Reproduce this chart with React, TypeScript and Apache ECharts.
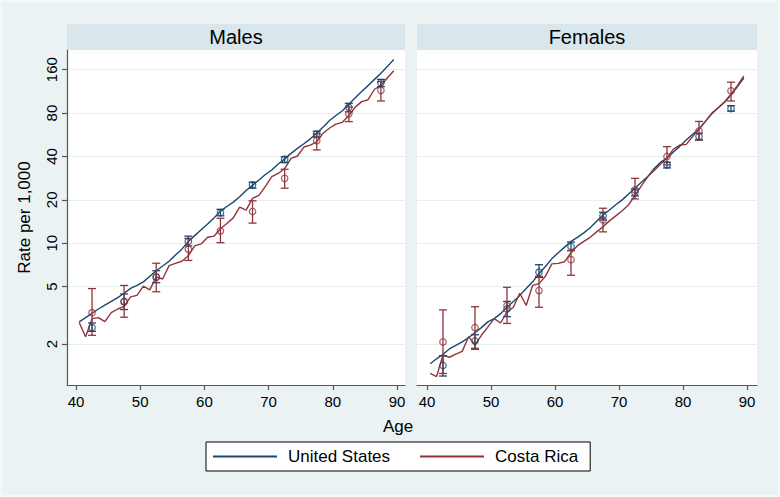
import React, { useEffect, useRef } from 'react';
import * as echarts from 'echarts';

// ---- data ----
const panels = ['Males', 'Females'];
const countries = ['United States', 'Costa Rica'];
const countryColors = ['#1A476F', '#90353B'];

const ages = [
  40.5, 41.5, 42.5, 43.5, 44.5, 45.5, 46.5, 47.5, 48.5, 49.5,
  50.5, 51.5, 52.5, 53.5, 54.5, 55.5, 56.5, 57.5, 58.5, 59.5,
  60.5, 61.5, 62.5, 63.5, 64.5, 65.5, 66.5, 67.5, 68.5, 69.5,
  70.5, 71.5, 72.5, 73.5, 74.5, 75.5, 76.5, 77.5, 78.5, 79.5,
  80.5, 81.5, 82.5, 83.5, 84.5, 85.5, 86.5, 87.5, 88.5, 89.5,
];

const usMales = [
  2.85, 3.05, 3.27, 3.5, 3.72, 3.95, 4.2, 4.5, 4.87, 5.1,
  5.4, 5.9, 6.45, 6.95, 7.5, 8.3, 9.1, 10.3, 11.3, 12.4,
  13.6, 15.0, 16.7, 18.0, 19.3, 21.0, 23.2, 25.2, 27.5, 30.0,
  32.2, 35.5, 38.5, 42, 45.5, 49, 53, 58, 64, 71,
  77, 83, 92, 102, 113, 124, 137, 151, 168, 188,
];
const crMales = [
  2.82, 2.25, 3.0, 3.05, 2.86, 3.3, 3.5, 3.65, 4.25, 4.35,
  5.05, 4.75, 5.85, 5.65, 7.0, 7.25, 7.5, 8.2, 9.6, 9.9,
  11.0, 11.2, 12.6, 13.7, 15.0, 17.8, 17.0, 20.5, 21.5, 24.8,
  29, 30.5, 33, 38.8, 40.3, 46.5, 48, 50.5, 58, 63,
  67, 69, 77, 88, 96, 99, 117, 124, 140, 157,
];
const usFemales = [
  1.46, 1.58, 1.7, 1.85, 1.96, 2.07, 2.22, 2.4, 2.6, 2.85,
  3.0, 3.25, 3.6, 3.95, 4.35, 4.85, 5.4, 6.15, 6.9, 7.8,
  8.6, 9.4, 10.3, 11.0, 11.8, 12.8, 14.2, 15.7, 17.0, 18.5,
  20.0, 22.0, 24.2, 26.5, 29, 33, 36.5, 39, 43, 47,
  52, 57, 62, 70, 79, 87, 95, 107, 122, 140,
];
const crFemales = [
  1.25, 1.19, 1.68, 1.62, 1.7, 1.78, 2.25, 1.97, 2.3, 2.62,
  3.0, 2.8, 3.35, 3.6, 4.5, 3.7, 5.1, 5.25, 5.9, 7.2,
  7.25, 7.45, 8.6, 9.6, 10.3, 11.0, 12.0, 13.0, 14.3, 15.5,
  16.8, 18.5, 21.5, 25, 29, 32, 35.5, 39, 45, 48,
  48.5, 55, 62, 70, 80, 87, 96, 108, 124, 145,
];

const pointAges = [42.5, 47.5, 52.5, 57.5, 62.5, 67.5, 72.5, 77.5, 82.5, 87.5];

const usMalesPt = [2.6, 3.95, 5.85, 10.3, 16.3, 25.4, 38.3, 57.2, 87.8, 130];
const usMalesLo = [2.45, 3.47, 5.33, 9.6, 15.5, 24.1, 36.2, 54.4, 81.6, 122];
const usMalesHi = [2.8, 4.45, 6.45, 11.2, 17.2, 26.5, 39.8, 59.8, 93.5, 137];

const crMalesPt = [3.3, 3.92, 5.8, 9.1, 12.2, 16.6, 28.2, 51.5, 79, 115];
const crMalesLo = [2.3, 3.07, 4.61, 7.6, 10.1, 13.8, 24.1, 44.4, 69.8, 97];
const crMalesHi = [4.85, 5.1, 7.27, 10.8, 14.9, 19.7, 32.6, 57.5, 88, 132];

const usFemalesPt = [1.42, 2.1, 3.5, 6.3, 9.5, 15.5, 22.5, 35, 55, 86];
const usFemalesLo = [1.2, 1.84, 3.1, 5.8, 8.9, 14.5, 21.3, 33.3, 52, 82.5];
const usFemalesHi = [1.66, 2.32, 3.95, 7.1, 10.2, 16.4, 23.8, 36.5, 58, 90];

const crFemalesPt = [2.07, 2.6, 3.7, 4.7, 7.7, 14.5, 23.5, 40, 60, 114];
const crFemalesLo = [1.25, 1.87, 2.78, 3.6, 6.0, 12.0, 20.3, 35, 52, 97];
const crFemalesHi = [3.45, 3.63, 4.95, 5.9, 8.9, 17.5, 28.2, 46.8, 70, 131];

const yTickValues = [2, 5, 10, 20, 40, 80, 160];
const xTickValues = [40, 50, 60, 70, 80, 90];
const yMinRate = 1.04;
const yMaxRate = 219;

const lineData = [
  [usMales, crMales],
  [usFemales, crFemales],
];
const pointData = [
  [
    [usMalesPt, usMalesLo, usMalesHi],
    [crMalesPt, crMalesLo, crMalesHi],
  ],
  [
    [usFemalesPt, usFemalesLo, usFemalesHi],
    [crFemalesPt, crFemalesLo, crFemalesHi],
  ],
];

const FONT = '"Liberation Sans", Arial, Helvetica, sans-serif';
const L = (v: number) => Math.log10(v);

const gridBoxes = [
  { left: 67, width: 338, xMin: 38.6, xMax: 91.25 },
  { left: 417, width: 340, xMin: 38.44, xMax: 91.56 },
];

export default function App() {
  const ref = useRef<HTMLDivElement>(null);

  useEffect(() => {
    if (!ref.current) return;
    const chart = echarts.init(ref.current, undefined, { renderer: 'svg' });

    const yCustom = yTickValues.map(L);

    const series: any[] = [];
    panels.forEach((_, p) => {
      countries.forEach((name, c) => {
        const color = countryColors[c];
        series.push({
          type: 'line',
          name,
          xAxisIndex: p,
          yAxisIndex: p,
          data: ages.map((a, i) => [a, L(lineData[p][c][i])]),
          showSymbol: false,
          symbol: 'none',
          lineStyle: { color, width: 1.4 },
          itemStyle: { color },
          z: 2,
        });
      });
    });
    panels.forEach((_, p) => {
      countries.forEach((name, c) => {
        const color = countryColors[c];
        const [pt, lo, hi] = pointData[p][c];
        series.push({
          type: 'custom',
          name,
          xAxisIndex: p,
          yAxisIndex: p,
          data: pointAges.map((a, i) => [a, L(lo[i]), L(hi[i])]),
          encode: { x: 0, y: [1, 2] },
          renderItem: (params: any, api: any) => {
            const x = api.value(0);
            const p1 = api.coord([x, api.value(1)]);
            const p2 = api.coord([x, api.value(2)]);
            const w = 4;
            const style = { stroke: color, lineWidth: 1.3, fill: 'none' };
            return {
              type: 'group',
              children: [
                { type: 'line', shape: { x1: p1[0], y1: p1[1], x2: p2[0], y2: p2[1] }, style },
                { type: 'line', shape: { x1: p1[0] - w, y1: p1[1], x2: p1[0] + w, y2: p1[1] }, style },
                { type: 'line', shape: { x1: p2[0] - w, y1: p2[1], x2: p2[0] + w, y2: p2[1] }, style },
              ],
            };
          },
          z: 3,
        });
        series.push({
          type: 'scatter',
          name,
          xAxisIndex: p,
          yAxisIndex: p,
          data: pointAges.map((a, i) => [a, L(pt[i])]),
          symbol: 'circle',
          symbolSize: 6.5,
          itemStyle: { color: 'rgba(0,0,0,0)', borderColor: color, borderWidth: 1.2 },
          z: 4,
        });
      });
    });

    const option: any = {
      animation: false,
      backgroundColor: '#EAF2F3',
      textStyle: { fontFamily: FONT },
      title: [
        {
          text: 'Males',
          left: 236,
          top: 27,
          padding: 0,
          textAlign: 'center',
          textStyle: { fontSize: 20, fontWeight: 'normal', color: '#000', fontFamily: FONT },
        },
        {
          text: 'Females',
          left: 587,
          top: 27,
          padding: 0,
          textAlign: 'center',
          textStyle: { fontSize: 20, fontWeight: 'normal', color: '#000', fontFamily: FONT },
        },
      ],
      legend: {
        data: countries,
        left: 206,
        top: 442,
        orient: 'horizontal',
        icon: 'rect',
        itemWidth: 64,
        itemHeight: 2,
        itemGap: 30,
        padding: [6, 12, 6, 7],
        borderColor: '#000',
        borderWidth: 1,
        borderRadius: 0,
        backgroundColor: '#fff',
        selectedMode: false,
        textStyle: { fontSize: 17, color: '#000', fontFamily: FONT, padding: [0, 0, 0, 6] },
      },
      graphic: [
        {
          type: 'rect',
          shape: { x: 1, y: 1, width: 778, height: 495 },
          style: { fill: 'none', stroke: '#F4F8F9', lineWidth: 2 },
          silent: true,
        },
        {
          type: 'rect',
          shape: { x: 67, y: 24, width: 338, height: 26 },
          style: { fill: '#D9E6EB' },
          z: -1,
          silent: true,
        },
        {
          type: 'rect',
          shape: { x: 417, y: 24, width: 340, height: 26 },
          style: { fill: '#D9E6EB' },
          z: -1,
          silent: true,
        },
        {
          type: 'text',
          x: 398,
          y: 426,
          style: {
            text: 'Age',
            fontSize: 17,
            fontFamily: FONT,
            fill: '#000',
            textAlign: 'center',
            textVerticalAlign: 'middle',
          },
        },
      ],
      grid: gridBoxes.map((g) => ({
        left: g.left,
        top: 50,
        width: g.width,
        height: 335,
        show: true,
        backgroundColor: '#fff',
        borderWidth: 0,
      })),
      xAxis: gridBoxes.map((g, i) => ({
        type: 'value',
        gridIndex: i,
        min: g.xMin,
        max: g.xMax,
        axisLine: { show: true, onZero: false, lineStyle: { color: '#555', width: 1.2 } },
        axisTick: {
          show: true,
          length: 5,
          customValues: xTickValues,
          lineStyle: { color: '#555', width: 1.2 },
        },
        axisLabel: {
          customValues: xTickValues,
          fontSize: 15,
          color: '#000',
          margin: 9,
          fontFamily: FONT,
        },
        splitLine: { show: false },
      })),
      yAxis: gridBoxes.map((g, i) => ({
        type: 'value',
        gridIndex: i,
        min: L(yMinRate),
        max: L(yMaxRate),
        name: i === 0 ? 'Rate per 1,000' : '',
        nameLocation: 'middle',
        nameGap: 34,
        nameTextStyle: { fontSize: 17, color: '#000', fontFamily: FONT },
        axisLine: { show: i === 0, onZero: false, lineStyle: { color: '#555', width: 1.2 } },
        axisTick: {
          show: i === 0,
          length: 5,
          customValues: yCustom,
          lineStyle: { color: '#555', width: 1.2 },
        },
        axisLabel: {
          show: i === 0,
          customValues: yCustom,
          rotate: 90,
          fontSize: 15,
          color: '#000',
          margin: 8,
          fontFamily: FONT,
          formatter: (v: number) => String(Math.round(Math.pow(10, v))),
        },
        splitLine: { show: true, lineStyle: { color: '#E6EEF0', width: 1 } },
      })),
      series,
    };

    chart.setOption(option);
    return () => chart.dispose();
  }, []);

  return (
    <div
      ref={ref}
      style={{ position: 'fixed', left: 0, top: 0, width: 780, height: 497 }}
    />
  );
}
